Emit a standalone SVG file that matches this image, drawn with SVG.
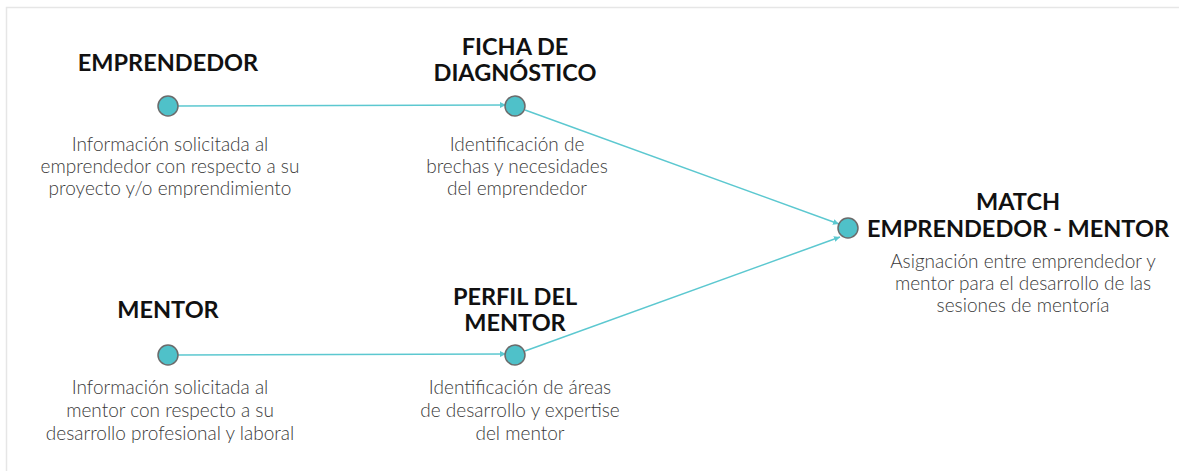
<svg xmlns="http://www.w3.org/2000/svg" width="1179" height="471" viewBox="0 0 1179 471">
<style>
.h{font-family:Lato,"Liberation Sans",sans-serif;font-weight:700;font-size:23.5px;fill:#111;text-anchor:middle}
.b{font-family:Lato,"Liberation Sans",sans-serif;font-weight:300;font-size:19px;fill:#3a3a3a;text-anchor:middle}
.n{fill:#4FC1C9;stroke:#6b6b6b;stroke-width:1.5}
.c{stroke:#5CC8D0;stroke-width:1.5;fill:none;marker-end:url(#a)}
</style>
<defs>
<marker id="a" viewBox="0 0 6 6" refX="6" refY="3" markerWidth="4" markerHeight="4" orient="auto" markerUnits="strokeWidth">
<path d="M0,0 L6,3 L0,6 z" fill="#5CC8D0"/>
</marker>
</defs>
<rect x="0" y="0" width="1179" height="471" fill="#fff"/>
<path d="M6.5,471 V7.5 H1179" stroke="#e6e6e6" stroke-width="1.5" fill="none"/>
<g id="connectors">
<line class="c" x1="177" y1="106" x2="506" y2="105"/>
<line class="c" x1="525" y1="110" x2="839" y2="224"/>
<line class="c" x1="177" y1="355" x2="506" y2="354"/>
<line class="c" x1="525" y1="351" x2="840" y2="237"/>
</g>
<g id="emprendedor">
<text class="h" x="168" y="71">EMPRENDEDOR</text>
<circle class="n" cx="168" cy="106" r="10"/>
<text class="b" x="170" y="151">Información solicitada al</text>
<text class="b" x="170" y="173">emprendedor con respecto a su</text>
<text class="b" x="170" y="195">proyecto y/o emprendimiento</text>
</g>
<g id="ficha">
<text class="h" x="515" y="55">FICHA DE</text>
<text class="h" x="515" y="81">DIAGNÓSTICO</text>
<circle class="n" cx="515" cy="106" r="10"/>
<text class="b" x="517" y="151">Identificación de</text>
<text class="b" x="517" y="173">brechas y necesidades</text>
<text class="b" x="517" y="195">del emprendedor</text>
</g>
<g id="mentor">
<text class="h" x="168" y="318">MENTOR</text>
<circle class="n" cx="168" cy="355" r="10"/>
<text class="b" x="170" y="394">Información solicitada al</text>
<text class="b" x="170" y="417">mentor con respecto a su</text>
<text class="b" x="170" y="440">desarrollo profesional y laboral</text>
</g>
<g id="perfil">
<text class="h" x="515" y="305">PERFIL DEL</text>
<text class="h" x="515" y="331">MENTOR</text>
<circle class="n" cx="515" cy="355" r="10"/>
<text class="b" x="520" y="394">Identificación de áreas</text>
<text class="b" x="520" y="417">de desarrollo y expertise</text>
<text class="b" x="520" y="440">del mentor</text>
</g>
<g id="match">
<circle class="n" cx="848" cy="228" r="10"/>
<text class="h" x="1018" y="210">MATCH</text>
<text class="h" x="1018" y="237">EMPRENDEDOR - MENTOR</text>
<text class="b" x="1023" y="268">Asignación entre emprendedor y</text>
<text class="b" x="1023" y="290">mentor para el desarrollo de las</text>
<text class="b" x="1023" y="312">sesiones de mentoría</text>
</g>
</svg>
